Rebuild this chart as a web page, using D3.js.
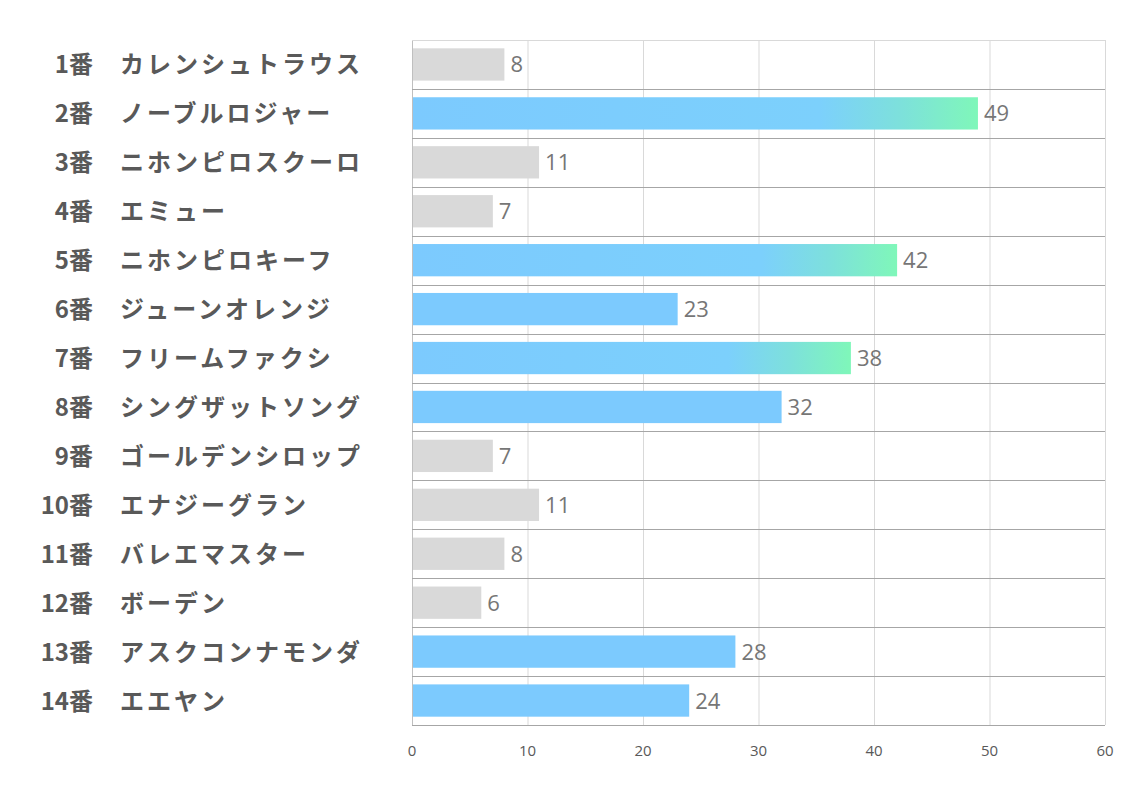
<!DOCTYPE html>
<html>
<head>
<meta charset="utf-8">
<script src="https://cdn.jsdelivr.net/npm/d3@7.9.0/dist/d3.min.js"></script>
<style>
  body { margin: 0; background: #fff; }
  svg { display: block; }
</style>
</head>
<body>
<svg id="chart" width="1134" height="793"></svg>
<script>
// horse numbers, names and values
const numbers = ["1番","2番","3番","4番","5番","6番","7番","8番","9番","10番","11番","12番","13番","14番"];
const names = ["カレンシュトラウス","ノーブルロジャー","ニホンピロスクーロ","エミュー","ニホンピロキーフ","ジューンオレンジ","フリームファクシ","シングザットソング","ゴールデンシロップ","エナジーグラン","バレエマスター","ボーデン","アスクコンナモンダ","エエヤン"];
const values = [8, 49, 11, 7, 42, 23, 38, 32, 7, 11, 8, 6, 28, 24];
const ticks = [0, 10, 20, 30, 40, 50, 60];

const margin = { left: 412, right: 1105, top: 40, bottom: 725 };
const svg = d3.select("#chart");

const x = d3.scaleLinear().domain([0, 60]).range([margin.left, margin.right]);
const y = d3.scaleBand()
  .domain(d3.range(values.length))
  .range([margin.top, margin.bottom])
  .paddingInner(0.34)
  .paddingOuter(0.17);
const step = y.step();

// gradient for the top bars
const defs = svg.append("defs");
const grad = defs.append("linearGradient").attr("id", "topGrad")
  .attr("x1", "0").attr("x2", "1").attr("y1", "0").attr("y2", "0");
grad.append("stop").attr("offset", "0").attr("stop-color", "#7ccafe");
grad.append("stop").attr("offset", "0.72").attr("stop-color", "#7cd0fc");
grad.append("stop").attr("offset", "0.86").attr("stop-color", "#7de0dc");
grad.append("stop").attr("offset", "1").attr("stop-color", "#7ff7b9");

function barFill(v) {
  if (v >= 35) return "url(#topGrad)";
  if (v >= 20) return "#7ccafe";
  return "#d9d9d9";
}

// vertical gridlines
svg.append("g").selectAll("line")
  .data(ticks)
  .join("line")
  .attr("x1", d => x(d) + 0.5).attr("x2", d => x(d) + 0.5)
  .attr("y1", margin.top).attr("y2", margin.bottom)
  .attr("stroke", d => d === 0 ? "#bfbfbf" : "#d9d9d9")
  .attr("stroke-width", 1);

// horizontal row separators
svg.append("g").selectAll("line")
  .data(d3.range(values.length + 1))
  .join("line")
  .attr("x1", margin.left).attr("x2", margin.right)
  .attr("y1", i => Math.round(margin.top + i * step) + 0.5)
  .attr("y2", i => Math.round(margin.top + i * step) + 0.5)
  .attr("stroke", i => i === 0 ? "#d9d9d9" : "#a6a6a6")
  .attr("stroke-width", 1);

// bars
svg.append("g").selectAll("rect")
  .data(values)
  .join("rect")
  .attr("x", x(0) + 1)
  .attr("y", (d, i) => y(i))
  .attr("width", d => x(d) - x(0) - 1)
  .attr("height", y.bandwidth())
  .attr("fill", d => barFill(d));

// value labels
svg.append("g").selectAll("text")
  .data(values)
  .join("text")
  .attr("x", d => x(d) + 6)
  .attr("y", (d, i) => y(i) + y.bandwidth() / 2 + 8)
  .attr("font-family", "'Open Sans', sans-serif")
  .attr("font-size", 22)
  .attr("fill", "#767676")
  .text(d => d);

// category labels: number + name
const labels = svg.append("g")
  .attr("font-family", "'Noto Sans CJK JP', sans-serif")
  .attr("font-weight", "bold")
  .attr("font-size", 24)
  .attr("fill", "#595959");

labels.selectAll("text.num")
  .data(numbers)
  .join("text")
  .attr("class", "num")
  .attr("x", 93)
  .attr("y", (d, i) => y(i) + y.bandwidth() / 2 + 9)
  .attr("text-anchor", "end")
  .text(d => d);

labels.selectAll("text.name")
  .data(names)
  .join("text")
  .attr("class", "name")
  .attr("x", 120)
  .attr("y", (d, i) => y(i) + y.bandwidth() / 2 + 9)
  .attr("letter-spacing", 3)
  .text(d => d);

// x axis tick labels
svg.append("g").selectAll("text")
  .data(ticks)
  .join("text")
  .attr("x", d => x(d))
  .attr("y", 756)
  .attr("text-anchor", "middle")
  .attr("font-family", "'Open Sans', sans-serif")
  .attr("font-size", 15)
  .attr("fill", "#595959")
  .text(d => d);
</script>
</body>
</html>
